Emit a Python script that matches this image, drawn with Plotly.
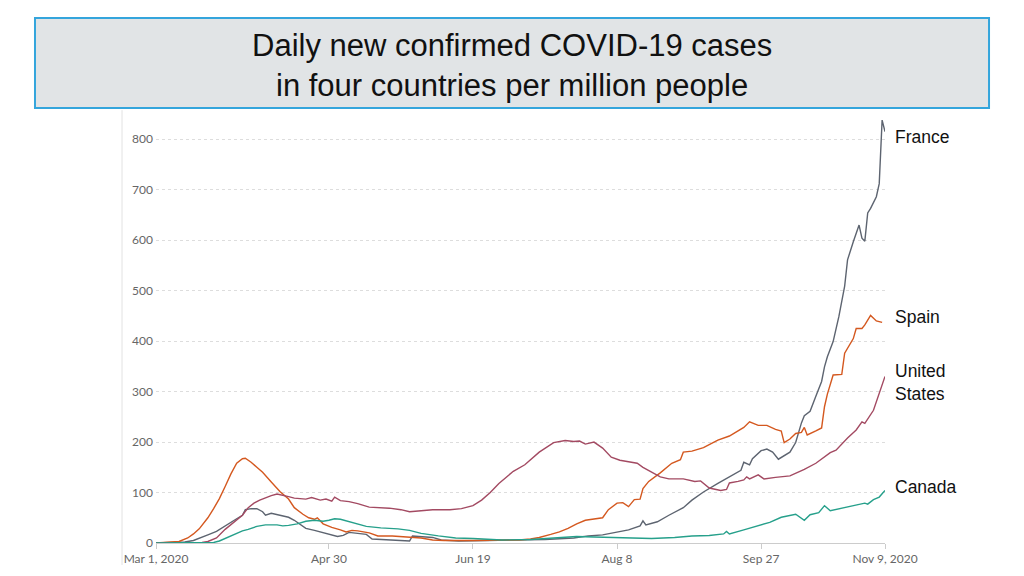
import pandas as pd
import plotly.graph_objects as go

start = pd.Timestamp("2020-03-01")

# Day offsets from Mar 1, 2020 and values (daily new confirmed cases per million)
france_days = [0, 8, 10, 13, 15, 18, 21, 24, 26, 28, 30, 31, 33, 35, 37, 38, 40, 42, 44, 46, 48, 50, 52, 55, 58,
               61, 63, 65, 67, 70, 73, 75, 80, 85, 88, 89, 93, 96, 99, 105, 115, 125, 135, 145, 150, 155, 160, 164,
               168, 169, 170, 174, 178, 183, 186, 190, 195, 199, 203, 204, 206, 207, 210, 212, 214, 216, 218, 220,
               222, 224, 225, 227, 229, 231, 232, 233, 235, 237, 239, 240, 242, 244, 245, 246, 247, 248, 250, 251,
               252, 253]
france_vals = [0, 1, 2, 5, 10, 16, 23, 33, 40, 48, 55, 66, 68, 68, 62, 55, 59, 56, 53, 51, 45, 37, 29, 25, 20,
               16, 13, 15, 21, 19, 17, 8, 7, 5, 4, 14, 13, 11, 6, 4, 5, 6, 7, 10, 14, 16, 21, 26,
               34, 44, 36, 42, 55, 70, 85, 101, 118, 131, 144, 160, 155, 167, 183, 186, 180, 166, 173, 180,
               199, 238, 252, 261, 291, 320, 349, 369, 399, 449, 509, 561, 597, 630, 604, 598, 654, 663, 686, 712,
               838, 815]

spain_days = [0, 5, 8, 11, 13, 15, 18, 20, 22, 24, 26, 28, 30, 31, 33, 35, 37, 40, 43, 46, 48, 51, 53, 55, 56,
              58, 61, 64, 66, 68, 70, 74, 77, 82, 86, 88, 92, 96, 100, 110, 120, 126, 130, 133, 137, 140, 143, 146,
              149, 152, 155, 157, 160, 162, 164, 166, 168, 169, 171, 175, 179, 182, 183, 186, 190, 195, 199, 204,
              206, 209, 212, 215, 217, 218, 220, 222, 224, 225, 226, 229, 231, 232, 233, 235, 238, 239, 241, 242,
              243, 245, 246, 248, 250, 252]
spain_vals = [0, 1, 3, 10, 18, 28, 50, 68, 88, 112, 137, 158, 167, 168, 160, 150, 140, 121, 102, 87, 70, 57, 50, 47, 50,
              38, 31, 26, 22, 25, 24, 20, 14, 14, 13, 12, 10, 6, 5, 5, 6, 6, 8, 11, 17, 22, 29, 38,
              45, 48, 50, 66, 79, 80, 72, 86, 87, 108, 122, 139, 158, 165, 180, 182, 189, 204, 212, 229,
              240, 233, 233, 225, 222, 199, 206, 217, 219, 229, 214, 222, 228, 270, 295, 333, 334, 376, 396, 405,
              425, 425, 432, 451, 440, 437]

us_days = [0, 16, 18, 21, 24, 26, 28, 30, 32, 34, 36, 38, 40, 42, 44, 46, 48, 50, 52, 54, 55, 57, 59, 61, 62,
           64, 67, 70, 74, 78, 81, 85, 88, 92, 96, 102, 106, 110, 113, 116, 119, 124, 128, 133, 138, 142, 145, 147,
           149, 152, 155, 158, 161, 164, 167, 169, 172, 175, 178, 183, 187, 189, 192, 196, 198, 199, 202, 204, 205,
           206, 209, 211, 215, 220, 225, 229, 234, 236, 240, 243, 245, 246, 249, 251, 253]
us_vals = [0, 1, 3, 10, 27, 36, 46, 55, 70, 79, 85, 90, 94, 97, 95, 92, 89, 88, 87, 90, 88, 85, 87, 83, 91,
           84, 82, 78, 71, 70, 69, 66, 62, 64, 66, 66, 68, 74, 85, 100, 118, 142, 155, 180, 199, 203, 201, 202,
           196, 200, 188, 170, 164, 161, 158, 150, 140, 131, 127, 127, 122, 123, 109, 104, 106, 119, 122, 125, 131,
           127, 135, 127, 130, 133, 146, 158, 179, 184, 208, 224, 240, 237, 263, 296, 330]

canada_days = [0, 20, 22, 24, 27, 30, 32, 35, 38, 42, 44, 46, 49, 52, 55, 58, 60, 62, 64, 67, 70, 73, 78, 84, 88,
               92, 98, 104, 110, 116, 120, 130, 140, 146, 152, 158, 165, 172, 180, 186, 192, 197, 198, 199, 204,
               208, 213, 217, 222, 225, 227, 230, 232, 234, 238, 243, 246, 247, 249, 251, 253]
canada_vals = [0, 1, 4, 9, 17, 24, 27, 33, 36, 36, 34, 35, 38, 43, 45, 43, 45, 48, 47, 42, 37, 33, 30, 28, 25,
               19, 14, 10, 9, 7, 6, 7, 10, 13, 12, 11, 9, 9, 11, 14, 15, 18, 23, 18, 26,
               32, 41, 51, 57, 45, 56, 60, 74, 64, 69, 76, 79, 77, 86, 91, 104]

series = [
    ("France", france_days, france_vals, "#5d6470"),
    ("Spain", spain_days, spain_vals, "#d4581f"),
    ("United States", us_days, us_vals, "#a34a62"),
    ("Canada", canada_days, canada_vals, "#26a08b"),
]

tick_dates = ["2020-03-01", "2020-04-30", "2020-06-19", "2020-08-08", "2020-09-27", "2020-11-09"]
tick_labels = ["Mar 1, 2020", "Apr 30", "Jun 19", "Aug 8", "Sep 27", "Nov 9, 2020"]
y_ticks = [0, 100, 200, 300, 400, 500, 600, 700, 800]

end_labels = [("France", 0.946), ("Spain", 0.527), ("United<br>States", 0.374), ("Canada", 0.1305)]

title_lines = ["Daily new confirmed COVID-19 cases", "in four countries per million people"]

fig = go.Figure()
for name, days, vals, color in series:
    dates = start + pd.to_timedelta(days, unit="D")
    fig.add_trace(go.Scatter(x=dates, y=vals, mode="lines", name=name,
                             line=dict(color=color, width=1.4), showlegend=False))

# page body has an 8px margin, so the figure is 1008x560 and offset by 8px
fig.update_layout(
    width=1008, height=560,
    margin=dict(l=148, r=131, t=106, b=25),
    paper_bgcolor="white", plot_bgcolor="white",
    font=dict(family="Lato", color="#666666", size=12),
    xaxis=dict(range=["2020-03-01", "2020-11-09"], tickvals=tick_dates, ticktext=tick_labels,
               showgrid=False, showline=True, linecolor="#cccccc", linewidth=1,
               ticks="outside", ticklen=5, tickcolor="#cccccc", zeroline=False, automargin=False,
               tickfont=dict(family="Lato", size=12, color="#666666")),
    yaxis=dict(range=[0, 850], tickvals=y_ticks, showgrid=True, gridcolor="#dddddd",
               griddash="dot", gridwidth=1, zeroline=False, showline=False, ticks="",
               ticklabelstandoff=2, automargin=False,
               tickfont=dict(family="Lato", size=12, color="#666666")),
)

# vertical separator line on the left
fig.add_shape(type="line", xref="paper", yref="paper", x0=-0.0466, x1=-0.0466, y0=-0.0513, y1=1.009,
              line=dict(color="#e3e3e3", width=1))
# title box
fig.add_shape(type="rect", xref="paper", yref="paper", x0=-0.166, x1=1.1427, y0=1.014, y1=1.2238,
              fillcolor="#e1e4e6", line=dict(color="#34a5dc", width=2), layer="above")

for i, line in enumerate(title_lines):
    fig.add_annotation(text=line, xref="paper", yref="paper", x=0.4883, y=[1.1608, 1.0653][i],
                       xanchor="center", yanchor="middle", showarrow=False,
                       font=dict(family="Liberation Sans Narrow, Arial Narrow, Liberation Sans", size=31,
                                 color="#111111"))

for text, yp in end_labels:
    fig.add_annotation(text=text, xref="paper", yref="paper", x=1.011, y=yp, xanchor="left",
                       yanchor="middle", showarrow=False, align="left",
                       font=dict(family="Liberation Sans, Arial", size=17.5, color="#111111"))

fig.write_html("out.html")
